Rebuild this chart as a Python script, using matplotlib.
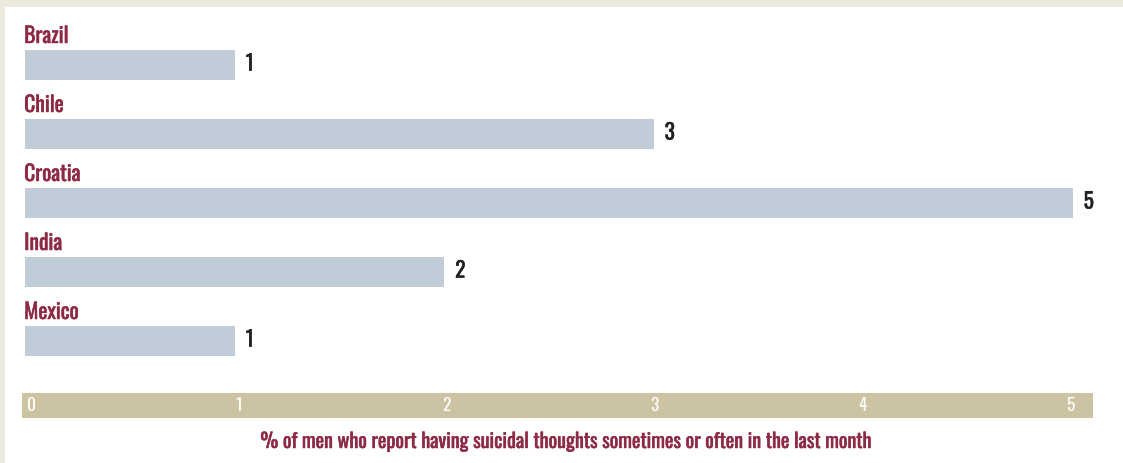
import matplotlib
matplotlib.use("Agg")
import matplotlib.pyplot as plt
from matplotlib.patches import Rectangle
import matplotlib.patheffects as pe

countries = ["Brazil", "Chile", "Croatia", "India", "Mexico"]
values = [1, 3, 5, 2, 1]
tick_values = [0, 1, 2, 3, 4, 5]
axis_title = "% of men who report having suicidal thoughts sometimes or often in the last month"

FONT = ["Oswald", "Pathway Gothic One", "DejaVu Sans"]
W, H = 1123, 464
BG = "#ece9dd"
BAR = "#c0cdd9"
STRIP = "#cbc3a1"
MAROON = "#8e2a45"
DARK = "#222222"

def bold(color, lw=0.35):
    return [pe.withStroke(linewidth=lw, foreground=color)]

fig = plt.figure(figsize=(W / 100, H / 100), dpi=100)
fig.patch.set_facecolor(BG)
# white panel
fig.add_artist(Rectangle((5 / W, 0), 1 - 5 / W, 1 - 8 / H, transform=fig.transFigure,
                         facecolor="white", edgecolor="none", zorder=0))

def fx(px):
    return px / W

def fy(py):
    return 1 - py / H

# main bar axes: x px 25 -> data 0, px 1072.5 -> data 5
top_px, bot_px = 8, 380
ax = fig.add_axes([fx(25), fy(bot_px), fx(1072.5) - fx(25), fy(top_px) - fy(bot_px)])
ax.set_xlim(0, 5)
y0 = (top_px - 66) / 69
y1 = (bot_px - 66) / 69
ax.set_ylim(y1, y0)
ax.axis("off")
ax.patch.set_alpha(0)

pos = list(range(len(countries)))
ax.barh(pos, values, height=30 / 69, color=BAR, edgecolor="none", zorder=2)
for i, (c, v) in enumerate(zip(countries, values)):
    ax.text(-0.004, i - 22 / 69, c, ha="left", va="baseline", fontsize=15.5,
            color=MAROON, family=FONT, path_effects=bold(MAROON))
    ax.annotate(str(v), xy=(v, i), xytext=(8, 1), textcoords="offset points",
                ha="left", va="center", fontsize=15.5,
                color=DARK, family=FONT, path_effects=bold(DARK))

# axis strip: label centres at px 31 (0) .. 1070 (5)
sl, sr = 22, 1093
sax = fig.add_axes([fx(sl), fy(419), fx(sr) - fx(sl), fy(394) - fy(419)])
unit = (1070 - 31) / 5
sax.set_xlim((sl - 31) / unit, (sr - 31) / unit)
sax.set_ylim(0, 1)
sax.set_facecolor(STRIP)
for s in sax.spines.values():
    s.set_visible(False)
sax.set_xticks([])
sax.set_yticks([])
for t in tick_values:
    sax.text(t, 0.52, str(t), ha="center", va="center", fontsize=12.5,
             color="white", family=FONT)

fig.text(fx(566), fy(442), axis_title, ha="center", va="center", fontsize=14.5,
         color=MAROON, family=FONT, path_effects=bold(MAROON))

fig.savefig("out.png", dpi=100, facecolor=BG)
